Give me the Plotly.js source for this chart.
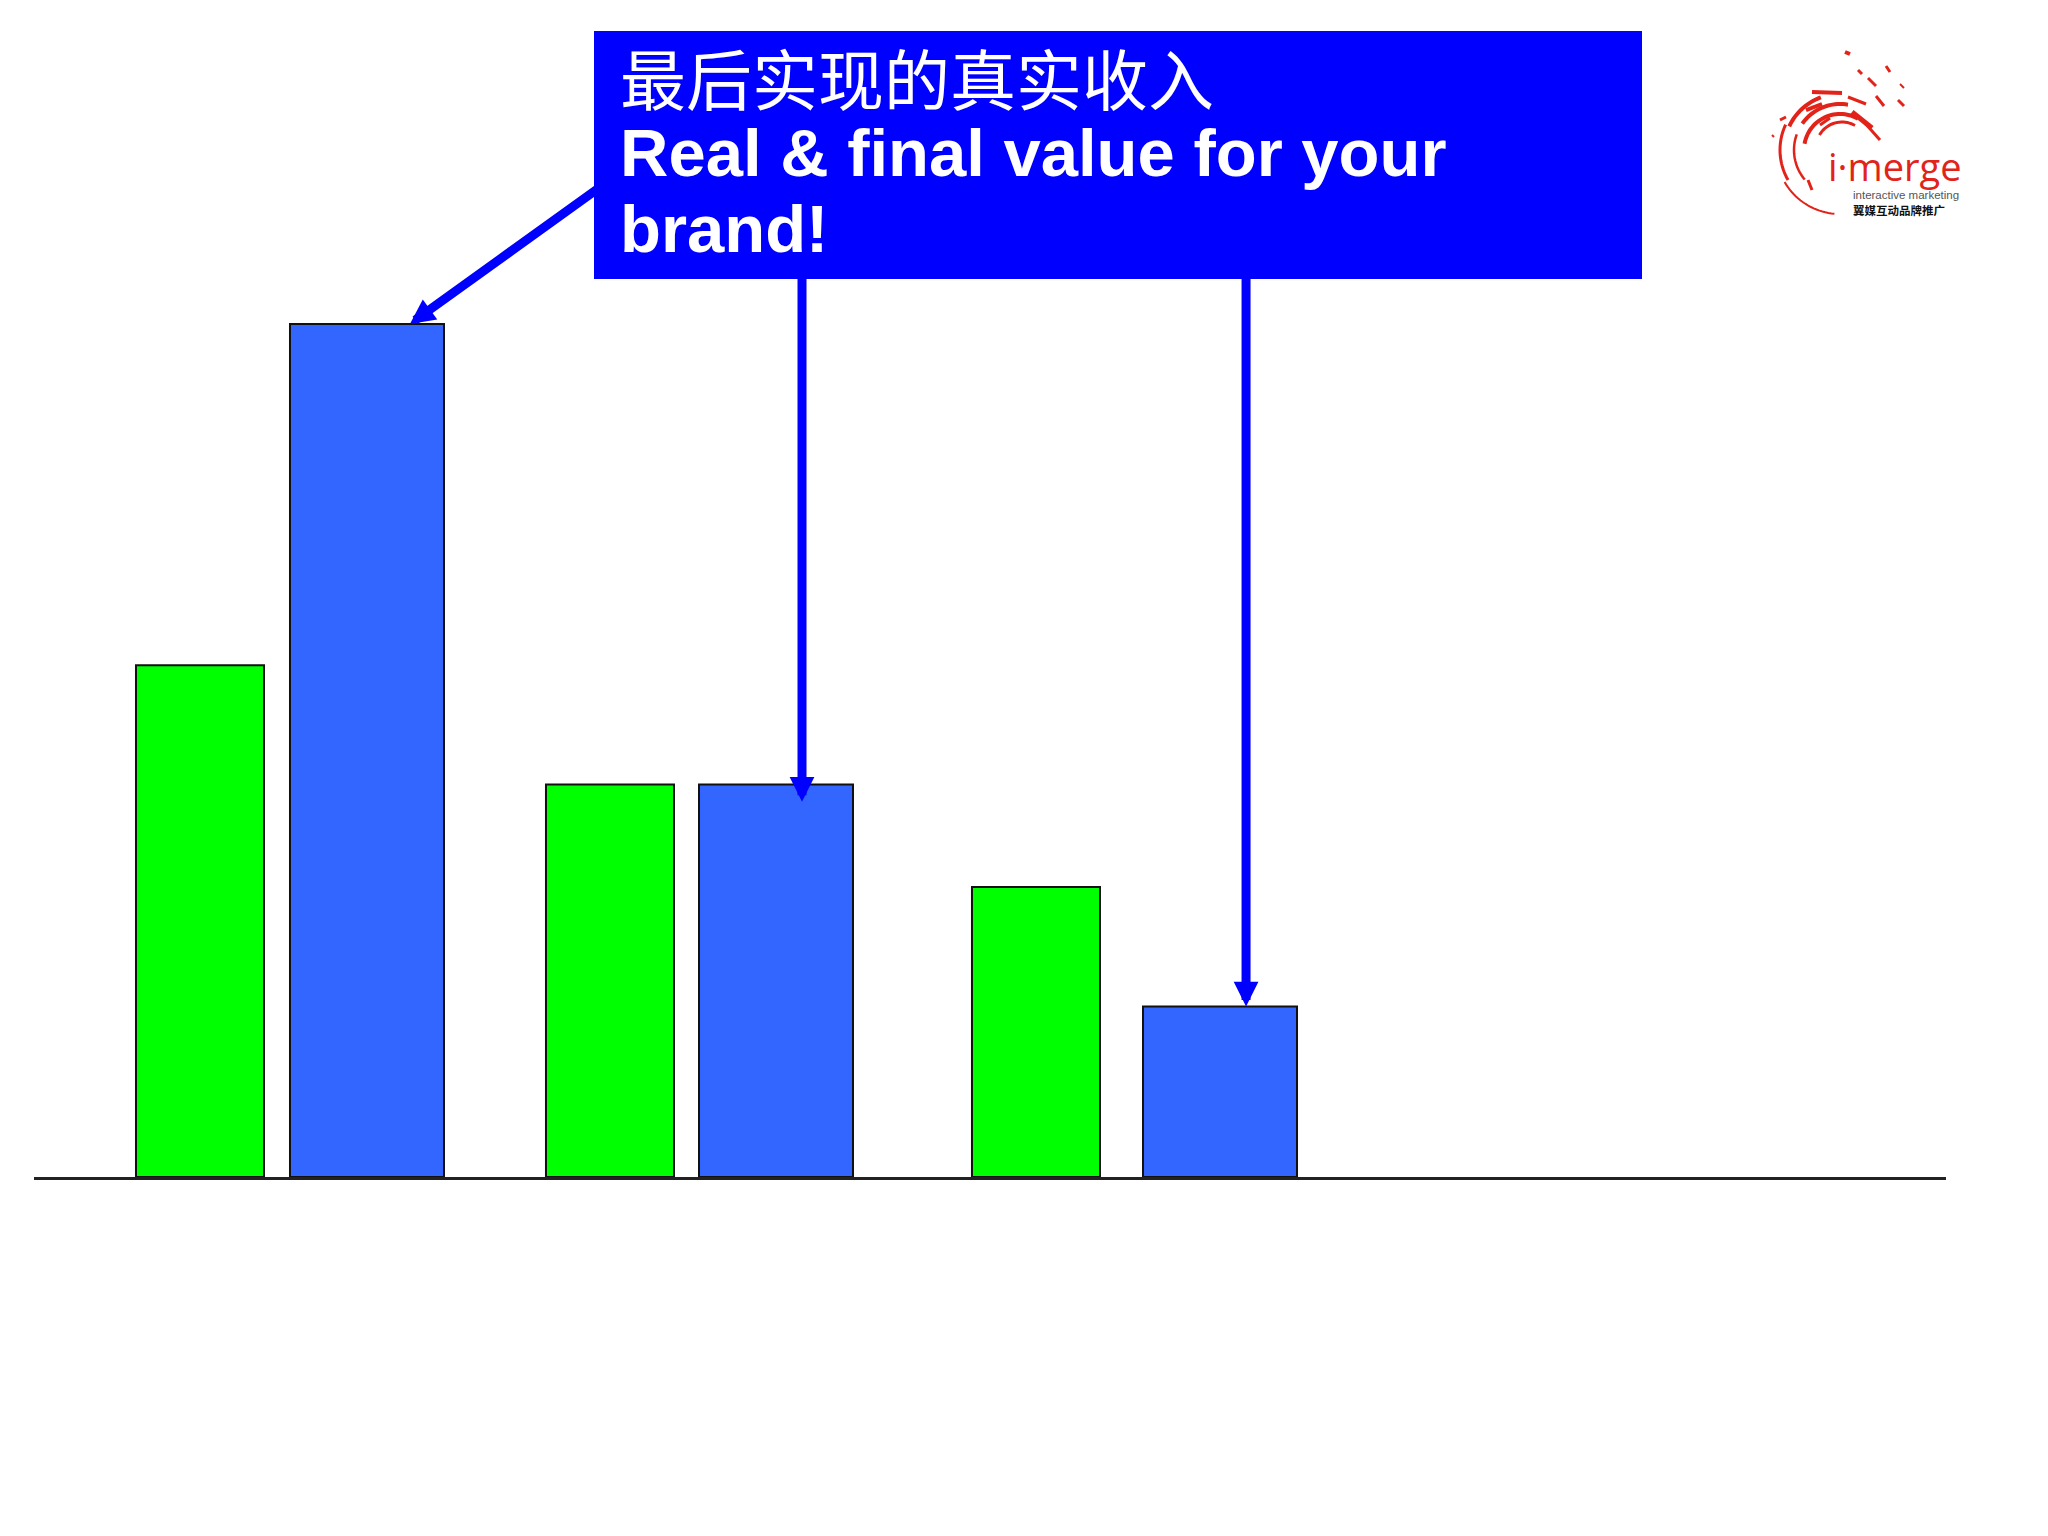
<!DOCTYPE html>
<html>
<head>
<meta charset="utf-8">
<script src="https://cdn.plot.ly/plotly-3.0.1.min.js"></script>
<style>
  html, body { margin: 0; padding: 0; background: #ffffff; }
  #chart { width: 2048px; height: 1536px; }
</style>
</head>
<body>
<div id="chart"></div>
<script>
// ---- data ----
const categories = ['Group 1', 'Group 2', 'Group 3'];
const seriesNames = ['Expected value', 'Real & final value'];
const greenValues = [60, 46, 34];
const blueValues = [100, 46, 20];
const titleZh = '最后实现的真实收入';
const titleEn1 = 'Real &amp; final value for your';
const titleEn2 = 'brand!';
const logoName = 'i·merge';
const logoSub = 'interactive marketing';
const logoZh = '翼媒互动品牌推广';

// ---- bar placement styles (offsets within each category slot) ----
const greenOffsets = [-0.3534, -0.3830, -0.3747];
const blueOffsets = [0.0111, -0.0208, 0.0301];

// ---- layout helpers (decoration only, pixel -> paper) ----
const W = 2048, H = 1536;
const ML = 34, MR = 102, MT = 0, MB = 359;
const PW = W - ML - MR, PH = H - MT - MB;
const px = x => (x - ML) / PW;
const py = y => (PH + MT - y) / PH;
function arcPath(cx, cy, r, a0, a1, n) {
  let d = '';
  for (let i = 0; i <= n; i++) {
    const a = (a0 + (a1 - a0) * i / n) * Math.PI / 180;
    const X = px(cx + r * Math.cos(a)), Y = py(cy + r * Math.sin(a));
    d += (i === 0 ? 'M' : 'L') + X.toFixed(5) + ',' + Y.toFixed(5);
  }
  return d;
}
function seg(x0, y0, x1, y1) {
  return 'M' + px(x0).toFixed(5) + ',' + py(y0).toFixed(5) + 'L' + px(x1).toFixed(5) + ',' + py(y1).toFixed(5);
}

const red = '#E2231A';
const logoShapes = [
  {d: arcPath(1840, 150, 64, 95, 150, 20), w: 2},
  {d: arcPath(1840, 150, 60, 150, 205, 20), w: 3},
  {d: arcPath(1840, 150, 56, 205, 250, 20), w: 4},
  {d: arcPath(1840, 150, 46, 140, 200, 20), w: 2.5},
  {d: arcPath(1840, 150, 46, 215, 280, 20), w: 4},
  {d: arcPath(1840, 150, 36, 190, 300, 30), w: 4},
  {d: arcPath(1842, 148, 26, 210, 300, 20), w: 3},
  {d: seg(1812, 92, 1842, 93), w: 4},
  {d: seg(1848, 97, 1866, 104), w: 3},
  {d: seg(1852, 112, 1872, 128), w: 5},
  {d: seg(1864, 122, 1880, 140), w: 3},
  {d: seg(1868, 78, 1876, 86), w: 3},
  {d: seg(1876, 96, 1884, 106), w: 3},
  {d: seg(1886, 66, 1890, 72), w: 3},
  {d: seg(1898, 100, 1904, 106), w: 3},
  {d: seg(1845, 52, 1850, 54), w: 4},
  {d: seg(1858, 70, 1862, 74), w: 3},
  {d: seg(1780, 120, 1786, 117), w: 3},
  {d: seg(1772, 135, 1774, 137), w: 2},
  {d: seg(1808, 180, 1812, 190), w: 3},
  {d: seg(1900, 84, 1904, 88), w: 2},
  {d: seg(1806, 110, 1822, 104), w: 4},
  {d: seg(1820, 125, 1830, 118), w: 3}
].map(s => ({
  type: 'path', xref: 'paper', yref: 'paper', path: s.d,
  line: {color: red, width: s.w}, layer: 'above'
}));

const traces = [
  {
    type: 'bar', name: seriesNames[0], x: categories, y: greenValues,
    offset: greenOffsets, width: 0.3030,
    marker: {color: '#00FF00', line: {color: '#111111', width: 2}},
    hoverinfo: 'skip'
  },
  {
    type: 'bar', name: seriesNames[1], x: categories, y: blueValues,
    offset: blueOffsets, width: 0.3645,
    marker: {color: '#3366FF', line: {color: '#111111', width: 2}},
    hoverinfo: 'skip'
  }
];

const arrowBase = {
  xref: 'x', yref: 'y', text: '', showarrow: true,
  arrowhead: 2, arrowsize: 0.55, arrowwidth: 9, arrowcolor: '#0000FF',
  standoff: 0, startstandoff: 0
};

const textFontEn = {family: '"Liberation Sans", Arial, sans-serif', size: 67, color: '#FFFFFF', weight: 'bold'};

const layout = {
  width: W, height: H,
  margin: {l: ML, r: MR, t: MT, b: MB, pad: 0},
  paper_bgcolor: '#FFFFFF', plot_bgcolor: '#FFFFFF',
  showlegend: false,
  barmode: 'overlay',
  xaxis: {
    type: 'category', range: [-0.5948, 3.9307],
    showline: true, linecolor: '#222222', linewidth: 2.5,
    showgrid: false, zeroline: false, ticks: '', showticklabels: false, fixedrange: true
  },
  yaxis: {
    range: [0, 137.98], visible: false, showgrid: false, zeroline: false, fixedrange: true
  },
  shapes: [
    {type: 'rect', xref: 'paper', yref: 'paper', x0: px(594), x1: px(1642), y0: py(279), y1: py(31),
     fillcolor: '#0000FF', line: {width: 0}, layer: 'above'}
  ].concat(logoShapes),
  annotations: [
    Object.assign({}, arrowBase, {x: 0.295, y: blueValues[0], ax: 193, ay: -139}),
    Object.assign({}, arrowBase, {x: 1.223, y: blueValues[1] - 2, ax: 0, ay: -530}),
    Object.assign({}, arrowBase, {x: 2.274, y: blueValues[2], ax: 0, ay: -735}),
    {xref: 'paper', yref: 'paper', x: px(618), y: py(76), xanchor: 'left', yanchor: 'middle',
     text: titleZh, showarrow: false,
     font: {family: '"Noto Sans CJK SC", sans-serif', size: 66, color: '#FFFFFF'}},
    {xref: 'paper', yref: 'paper', x: px(618), y: py(153), xanchor: 'left', yanchor: 'middle',
     text: titleEn1, showarrow: false, font: textFontEn},
    {xref: 'paper', yref: 'paper', x: px(618), y: py(229), xanchor: 'left', yanchor: 'middle',
     text: titleEn2, showarrow: false, font: textFontEn},
    {xref: 'paper', yref: 'paper', x: px(1826), y: py(166), xanchor: 'left', yanchor: 'middle',
     text: logoName, showarrow: false,
     font: {family: '"Open Sans", "Noto Sans", sans-serif', size: 38, color: red}},
    {xref: 'paper', yref: 'paper', x: px(1851), y: py(195), xanchor: 'left', yanchor: 'middle',
     text: logoSub, showarrow: false,
     font: {family: '"Liberation Sans", Arial, sans-serif', size: 11.5, color: '#555555'}},
    {xref: 'paper', yref: 'paper', x: px(1851), y: py(210), xanchor: 'left', yanchor: 'middle',
     text: logoZh, showarrow: false,
     font: {family: '"Noto Sans CJK SC", sans-serif', size: 11.5, color: '#111111', weight: 'bold'}}
  ]
};

Plotly.newPlot('chart', traces, layout, {displayModeBar: false, staticPlot: true});
</script>
</body>
</html>
